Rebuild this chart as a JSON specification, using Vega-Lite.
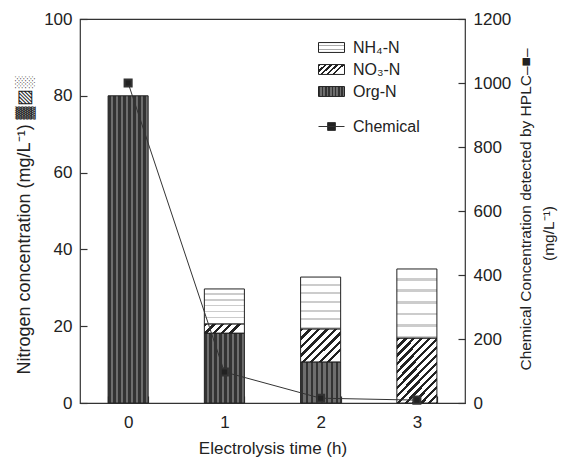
{
  "$schema": "https://vega.github.io/schema/vega-lite/v6.json",
  "width": 385,
  "height": 384,
  "autosize": {"type": "none"},
  "padding": {"left": 80, "top": 19, "right": 98, "bottom": 57},
  "background": "white",
  "config": {
    "font": "Liberation Sans, sans-serif",
    "view": {"stroke": "#333", "strokeWidth": 1.2},
    "axis": {
      "grid": false,
      "domain": false,
      "tickColor": "#333",
      "tickWidth": 1.2,
      "tickSize": -7,
      "labelFont": "Liberation Sans, sans-serif",
      "labelFontSize": 17,
      "labelColor": "#222",
      "titleFont": "Liberation Sans, sans-serif",
      "titleFontSize": 17,
      "titleFontWeight": "normal",
      "titleColor": "#222"
    },
    "legend": {
      "labelFont": "Liberation Sans, sans-serif",
      "labelFontSize": 16,
      "labelColor": "#222"
    }
  },
  "datasets": {
    "bars": [
      {"time": "0", "type": "Org-N", "ord": 1, "value": 80},
      {"time": "1", "type": "Org-N", "ord": 1, "value": 18.2},
      {"time": "1", "type": "NO₃-N", "ord": 2, "value": 2.4},
      {"time": "1", "type": "NH₄-N", "ord": 3, "value": 9.1},
      {"time": "2", "type": "Org-N", "ord": 1, "value": 10.7},
      {"time": "2", "type": "NO₃-N", "ord": 2, "value": 8.6},
      {"time": "2", "type": "NH₄-N", "ord": 3, "value": 13.5},
      {"time": "3", "type": "NO₃-N", "ord": 2, "value": 16.9},
      {"time": "3", "type": "NH₄-N", "ord": 3, "value": 18.0}
    ],
    "chem": [
      {"time": "0", "series": "Chemical", "chem": 1000},
      {"time": "1", "series": "Chemical", "chem": 97},
      {"time": "2", "series": "Chemical", "chem": 15},
      {"time": "3", "series": "Chemical", "chem": 9}
    ]
  },
  "layer": [
    {
      "data": {"name": "bars"},
      "mark": {
        "type": "bar", "strokeWidth": 1,
        "fill": {"expr": "(datum.type || datum.value) === 'NH₄-N' ? (datum.type ? {gradient: 'linear', x1: 0, y1: 0, x2: 0, y2: 1, stops: [{offset: 0, color: '#fff'}, {offset: 0.13, color: '#fff'}, {offset: 0.13, color: '#ccc'}, {offset: 0.1667, color: '#ccc'}, {offset: 0.1667, color: '#fff'}, {offset: 0.2967, color: '#fff'}, {offset: 0.2967, color: '#ccc'}, {offset: 0.3333, color: '#ccc'}, {offset: 0.3333, color: '#fff'}, {offset: 0.4633, color: '#fff'}, {offset: 0.4633, color: '#ccc'}, {offset: 0.5, color: '#ccc'}, {offset: 0.5, color: '#fff'}, {offset: 0.63, color: '#fff'}, {offset: 0.63, color: '#ccc'}, {offset: 0.6667, color: '#ccc'}, {offset: 0.6667, color: '#fff'}, {offset: 0.7967, color: '#fff'}, {offset: 0.7967, color: '#ccc'}, {offset: 0.8333, color: '#ccc'}, {offset: 0.8333, color: '#fff'}, {offset: 0.9633, color: '#fff'}, {offset: 0.9633, color: '#ccc'}, {offset: 1, color: '#ccc'}]} : {gradient: 'linear', x1: 0, y1: 0, x2: 0, y2: 1, stops: [{offset: 0, color: '#fff'}, {offset: 0.22, color: '#fff'}, {offset: 0.22, color: '#aaa'}, {offset: 0.36, color: '#aaa'}, {offset: 0.36, color: '#fff'}, {offset: 0.62, color: '#fff'}, {offset: 0.62, color: '#aaa'}, {offset: 0.76, color: '#aaa'}, {offset: 0.76, color: '#fff'}, {offset: 1, color: '#fff'}]}) : (datum.type || datum.value) === 'NO₃-N' ? (datum.time === '1' ? {gradient: 'linear', x1: 0, y1: 0, x2: 1, y2: 0.23, stops: [{offset: 0, color: '#222'}, {offset: 0.08, color: '#222'}, {offset: 0.08, color: '#fff'}, {offset: 0.2, color: '#fff'}, {offset: 0.2, color: '#222'}, {offset: 0.28, color: '#222'}, {offset: 0.28, color: '#fff'}, {offset: 0.4, color: '#fff'}, {offset: 0.4, color: '#222'}, {offset: 0.48, color: '#222'}, {offset: 0.48, color: '#fff'}, {offset: 0.6, color: '#fff'}, {offset: 0.6, color: '#222'}, {offset: 0.68, color: '#222'}, {offset: 0.68, color: '#fff'}, {offset: 0.8, color: '#fff'}, {offset: 0.8, color: '#222'}, {offset: 0.88, color: '#222'}, {offset: 0.88, color: '#fff'}, {offset: 1, color: '#fff'}]} : datum.time === '2' ? {gradient: 'linear', x1: 0, y1: 0, x2: 1, y2: 0.83, stops: [{offset: 0, color: '#222'}, {offset: 0.05, color: '#222'}, {offset: 0.05, color: '#fff'}, {offset: 0.125, color: '#fff'}, {offset: 0.125, color: '#222'}, {offset: 0.175, color: '#222'}, {offset: 0.175, color: '#fff'}, {offset: 0.25, color: '#fff'}, {offset: 0.25, color: '#222'}, {offset: 0.3, color: '#222'}, {offset: 0.3, color: '#fff'}, {offset: 0.375, color: '#fff'}, {offset: 0.375, color: '#222'}, {offset: 0.425, color: '#222'}, {offset: 0.425, color: '#fff'}, {offset: 0.5, color: '#fff'}, {offset: 0.5, color: '#222'}, {offset: 0.55, color: '#222'}, {offset: 0.55, color: '#fff'}, {offset: 0.625, color: '#fff'}, {offset: 0.625, color: '#222'}, {offset: 0.675, color: '#222'}, {offset: 0.675, color: '#fff'}, {offset: 0.75, color: '#fff'}, {offset: 0.75, color: '#222'}, {offset: 0.8, color: '#222'}, {offset: 0.8, color: '#fff'}, {offset: 0.875, color: '#fff'}, {offset: 0.875, color: '#222'}, {offset: 0.925, color: '#222'}, {offset: 0.925, color: '#fff'}, {offset: 1, color: '#fff'}]} : datum.time === '3' ? {gradient: 'linear', x1: 0, y1: 0, x2: 1, y2: 1.6, stops: [{offset: 0, color: '#222'}, {offset: 0.022, color: '#222'}, {offset: 0.022, color: '#fff'}, {offset: 0.0556, color: '#fff'}, {offset: 0.0556, color: '#222'}, {offset: 0.0776, color: '#222'}, {offset: 0.0776, color: '#fff'}, {offset: 0.1111, color: '#fff'}, {offset: 0.1111, color: '#222'}, {offset: 0.1331, color: '#222'}, {offset: 0.1331, color: '#fff'}, {offset: 0.1667, color: '#fff'}, {offset: 0.1667, color: '#222'}, {offset: 0.1887, color: '#222'}, {offset: 0.1887, color: '#fff'}, {offset: 0.2222, color: '#fff'}, {offset: 0.2222, color: '#222'}, {offset: 0.2442, color: '#222'}, {offset: 0.2442, color: '#fff'}, {offset: 0.2778, color: '#fff'}, {offset: 0.2778, color: '#222'}, {offset: 0.2998, color: '#222'}, {offset: 0.2998, color: '#fff'}, {offset: 0.3333, color: '#fff'}, {offset: 0.3333, color: '#222'}, {offset: 0.3553, color: '#222'}, {offset: 0.3553, color: '#fff'}, {offset: 0.3889, color: '#fff'}, {offset: 0.3889, color: '#222'}, {offset: 0.4109, color: '#222'}, {offset: 0.4109, color: '#fff'}, {offset: 0.4444, color: '#fff'}, {offset: 0.4444, color: '#222'}, {offset: 0.4664, color: '#222'}, {offset: 0.4664, color: '#fff'}, {offset: 0.5, color: '#fff'}, {offset: 0.5, color: '#222'}, {offset: 0.522, color: '#222'}, {offset: 0.522, color: '#fff'}, {offset: 0.5556, color: '#fff'}, {offset: 0.5556, color: '#222'}, {offset: 0.5776, color: '#222'}, {offset: 0.5776, color: '#fff'}, {offset: 0.6111, color: '#fff'}, {offset: 0.6111, color: '#222'}, {offset: 0.6331, color: '#222'}, {offset: 0.6331, color: '#fff'}, {offset: 0.6667, color: '#fff'}, {offset: 0.6667, color: '#222'}, {offset: 0.6887, color: '#222'}, {offset: 0.6887, color: '#fff'}, {offset: 0.7222, color: '#fff'}, {offset: 0.7222, color: '#222'}, {offset: 0.7442, color: '#222'}, {offset: 0.7442, color: '#fff'}, {offset: 0.7778, color: '#fff'}, {offset: 0.7778, color: '#222'}, {offset: 0.7998, color: '#222'}, {offset: 0.7998, color: '#fff'}, {offset: 0.8333, color: '#fff'}, {offset: 0.8333, color: '#222'}, {offset: 0.8553, color: '#222'}, {offset: 0.8553, color: '#fff'}, {offset: 0.8889, color: '#fff'}, {offset: 0.8889, color: '#222'}, {offset: 0.9109, color: '#222'}, {offset: 0.9109, color: '#fff'}, {offset: 0.9444, color: '#fff'}, {offset: 0.9444, color: '#222'}, {offset: 0.9664, color: '#222'}, {offset: 0.9664, color: '#fff'}, {offset: 1, color: '#fff'}]} : {gradient: 'linear', x1: 0, y1: 0, x2: 1, y2: 0.385, stops: [{offset: 0, color: '#222'}, {offset: 0.07, color: '#222'}, {offset: 0.07, color: '#fff'}, {offset: 0.2, color: '#fff'}, {offset: 0.2, color: '#222'}, {offset: 0.27, color: '#222'}, {offset: 0.27, color: '#fff'}, {offset: 0.4, color: '#fff'}, {offset: 0.4, color: '#222'}, {offset: 0.47, color: '#222'}, {offset: 0.47, color: '#fff'}, {offset: 0.6, color: '#fff'}, {offset: 0.6, color: '#222'}, {offset: 0.67, color: '#222'}, {offset: 0.67, color: '#fff'}, {offset: 0.8, color: '#fff'}, {offset: 0.8, color: '#222'}, {offset: 0.87, color: '#222'}, {offset: 0.87, color: '#fff'}, {offset: 1, color: '#fff'}]}) : {gradient: 'linear', x1: 0, y1: 0, x2: 1, y2: 0, stops: [{offset: 0, color: '#333'}, {offset: 0.0625, color: '#333'}, {offset: 0.0625, color: '#6e6e6e'}, {offset: 0.125, color: '#6e6e6e'}, {offset: 0.125, color: '#333'}, {offset: 0.1875, color: '#333'}, {offset: 0.1875, color: '#6e6e6e'}, {offset: 0.25, color: '#6e6e6e'}, {offset: 0.25, color: '#333'}, {offset: 0.3125, color: '#333'}, {offset: 0.3125, color: '#6e6e6e'}, {offset: 0.375, color: '#6e6e6e'}, {offset: 0.375, color: '#333'}, {offset: 0.4375, color: '#333'}, {offset: 0.4375, color: '#6e6e6e'}, {offset: 0.5, color: '#6e6e6e'}, {offset: 0.5, color: '#333'}, {offset: 0.5625, color: '#333'}, {offset: 0.5625, color: '#6e6e6e'}, {offset: 0.625, color: '#6e6e6e'}, {offset: 0.625, color: '#333'}, {offset: 0.6875, color: '#333'}, {offset: 0.6875, color: '#6e6e6e'}, {offset: 0.75, color: '#6e6e6e'}, {offset: 0.75, color: '#333'}, {offset: 0.8125, color: '#333'}, {offset: 0.8125, color: '#6e6e6e'}, {offset: 0.875, color: '#6e6e6e'}, {offset: 0.875, color: '#333'}, {offset: 0.9375, color: '#333'}, {offset: 0.9375, color: '#6e6e6e'}, {offset: 1, color: '#6e6e6e'}]}"}
      },
      "encoding": {
        "x": {
          "field": "time", "type": "nominal",
          "scale": {"paddingInner": 0.584, "paddingOuter": 0.292},
          "axis": {"labelAngle": 0, "title": "Electrolysis time (h)", "tickBand": "extent", "labelPadding": 18, "titlePadding": 10}
        },
        "y": {
          "field": "value", "type": "quantitative", "stack": "zero",
          "scale": {"domain": [0, 100]},
          "axis": {"values": [0, 20, 40, 60, 80, 100], "title": "Nitrogen concentration (mg/L⁻¹)  ▓▨░", "titleFontSize": 18, "titleY": 206, "labelPadding": 15, "titlePadding": 10}
        },
        "stroke": {
          "field": "type", "type": "nominal",
          "scale": {"domain": ["NH₄-N", "NO₃-N", "Org-N"], "range": ["#222", "#222", "#222"]},
          "legend": {
            "title": null, "orient": "none", "legendX": 238, "legendY": 15, "padding": 0,
            "symbolType": "M-1,-0.38H1V0.38H-1Z", "symbolSize": 676,
            "symbolStrokeWidth": 1,
            "rowPadding": 0, "labelOffset": 8
          }
        },
        "order": {"field": "ord", "type": "quantitative"}
      }
    },
    {
      "data": {"name": "chem"},
      "mark": {"type": "line", "strokeWidth": 1, "point": {"shape": "square", "filled": true, "size": 50, "color": "#222"}},
      "encoding": {
        "x": {"field": "time", "type": "nominal"},
        "y": {
          "field": "chem", "type": "quantitative",
          "scale": {"domain": [0, 1200]},
          "axis": {"orient": "right", "values": [0, 200, 400, 600, 800, 1000, 1200], "format": "d",
                   "title": ["Chemical Concentration detected by HPLC–■–", "(mg/L⁻¹)⠀⠀⠀⠀"],
                   "titleAngle": 270, "titleFontSize": 15.5, "titleLineHeight": 23, "titleY": 190, "labelPadding": 15, "titlePadding": 0}
        },
        "stroke": {
          "field": "series", "type": "nominal",
          "scale": {"range": ["#333"]},
          "legend": {
            "title": null, "orient": "none", "legendX": 238, "legendY": 94, "padding": 0,
            "symbolType": "M-1,0H1M-0.3,-0.3H0.3V0.3H-0.3Z", "symbolSize": 676,
            "symbolStrokeWidth": 1,
            "labelOffset": 8
          }
        }
      }
    }
  ],
  "resolve": {"scale": {"y": "independent", "stroke": "independent"}}
}
